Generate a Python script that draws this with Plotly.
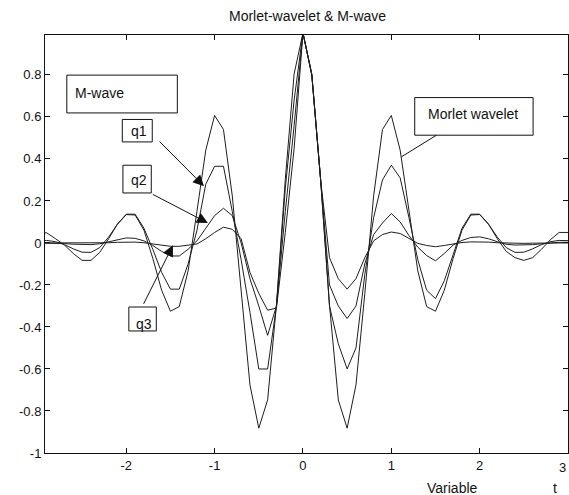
import plotly.graph_objects as go

t = [-3.0, -2.9, -2.8, -2.7, -2.6, -2.5, -2.4, -2.3, -2.2, -2.1,
     -2.0, -1.9, -1.8, -1.7, -1.6, -1.5, -1.4, -1.3, -1.2, -1.1,
     -1.0, -0.9, -0.8, -0.7, -0.6, -0.5, -0.4, -0.3, -0.2, -0.1,
     0.0, 0.1, 0.2, 0.3, 0.4, 0.5, 0.6, 0.7, 0.8, 0.9,
     1.0, 1.1, 1.2, 1.3, 1.4, 1.5, 1.6, 1.7, 1.8, 1.9,
     2.0, 2.1, 2.2, 2.3, 2.4, 2.5, 2.6, 2.7, 2.8, 2.9, 3.0]

morlet = [0.011, 0.012, 0.006, -0.008, -0.028, -0.044, -0.045, -0.022, 0.028, 0.089,
          0.135, 0.133, 0.061, -0.073, -0.225, -0.325, -0.303, -0.133, 0.150, 0.442,
          0.607, 0.540, 0.224, -0.242, -0.676, -0.882, -0.747, -0.295, 0.303, 0.805,
          1.000, 0.805, 0.303, -0.295, -0.747, -0.882, -0.676, -0.242, 0.224, 0.540,
          0.607, 0.442, 0.150, -0.133, -0.303, -0.325, -0.225, -0.073, 0.061, 0.133,
          0.135, 0.089, 0.028, -0.022, -0.045, -0.044, -0.028, -0.008, 0.006, 0.012, 0.011]

q1 = [0.050, 0.048, 0.020, -0.010, -0.050, -0.083, -0.083, -0.045, 0.020, 0.090,
      0.137, 0.137, 0.070, -0.030, -0.140, -0.220, -0.220, -0.100, 0.060, 0.280,
      0.365, 0.365, 0.150, -0.080, -0.330, -0.600, -0.600, -0.300, 0.260, 0.680,
      1.000, 0.800, 0.300, -0.300, -0.480, -0.600, -0.500, -0.150, 0.120, 0.300,
      0.370, 0.310, 0.120, -0.080, -0.225, -0.265, -0.180, -0.050, 0.070, 0.137,
      0.137, 0.090, 0.020, -0.040, -0.070, -0.083, -0.070, -0.030, 0.015, 0.050, 0.050]

q2 = [0.000, 0.000, 0.000, -0.003, -0.006, -0.008, -0.008, -0.004, 0.005, 0.016,
      0.024, 0.022, 0.010, -0.012, -0.040, -0.062, -0.062, -0.030, 0.010, 0.070,
      0.130, 0.165, 0.130, 0.000, -0.170, -0.300, -0.440, -0.300, 0.150, 0.560,
      1.000, 0.800, 0.300, -0.200, -0.300, -0.360, -0.300, -0.100, 0.040, 0.095,
      0.140, 0.100, 0.035, -0.020, -0.060, -0.085, -0.050, -0.010, 0.012, 0.026,
      0.029, 0.020, 0.006, -0.006, -0.010, -0.010, -0.008, -0.004, 0.000, 0.003, 0.003]

q3 = [0.000, 0.000, 0.000, 0.000, -0.001, -0.002, -0.002, -0.001, 0.001, 0.003,
      0.005, 0.004, 0.001, -0.004, -0.010, -0.016, -0.016, -0.010, -0.005, 0.020,
      0.050, 0.075, 0.065, 0.020, -0.140, -0.240, -0.320, -0.310, 0.050, 0.450,
      1.000, 0.800, 0.300, -0.070, -0.170, -0.220, -0.170, -0.070, 0.010, 0.040,
      0.052, 0.045, 0.020, -0.002, -0.012, -0.018, -0.012, -0.004, 0.002, 0.005,
      0.006, 0.004, 0.001, -0.001, -0.002, -0.002, -0.001, 0.000, 0.000, 0.000, 0.000]

x_ticks = [-2, -1, 0, 1, 2, 3]
x_ticklabels = ["-2", "-1", "0", "1", "2", "3"]
y_ticks = [-1, -0.8, -0.6, -0.4, -0.2, 0, 0.2, 0.4, 0.6, 0.8]
y_ticklabels = ["-1", "-0.8", "-0.6", "-0.4", "-0.2", "0", "0.2", "0.4", "0.6", "0.8"]

FONT = "Liberation Sans, Arial, sans-serif"
LINE = "#1e1e1e"

fig = go.Figure()
for ys in (morlet, q1, q2, q3):
    fig.add_trace(go.Scatter(x=t, y=ys, mode="lines",
                             line=dict(color=LINE, width=1), showlegend=False,
                             hoverinfo="skip"))

shapes = []
annotations = []

def box(x0, x1, y0, y1):
    shapes.append(dict(type="rect", xref="x", yref="y", x0=x0, x1=x1, y0=y0, y1=y1,
                       line=dict(color="#111", width=1), fillcolor="white", layer="above"))

box(-2.673, -1.422, 0.619, 0.799)   # M-wave
box(-2.045, -1.706, 0.481, 0.588)   # q1
box(-2.038, -1.717, 0.238, 0.370)   # q2
box(-1.971, -1.660, -0.419, -0.305) # q3
box(1.265, 2.605, 0.513, 0.692)     # Morlet wavelet

shapes.append(dict(type="line", xref="x", yref="y", x0=1.511, y0=0.513, x1=1.114, y1=0.41,
                   line=dict(color="#111", width=1)))

def label(x, y, text, anchor="center"):
    annotations.append(dict(x=x, y=y, xref="x", yref="y", text=text, showarrow=False,
                            xanchor=anchor, yanchor="middle",
                            font=dict(family=FONT, size=14, color="#111")))

label(-2.60, 0.715, "M-wave", "left")
label(-1.86, 0.534, "q1")
label(-1.86, 0.300, "q2")
label(-1.80, -0.384, "q3")
label(1.925, 0.612, "Morlet wavelet")

def arrow(xt, yt, xs, ys):
    annotations.append(dict(x=xt, y=yt, ax=xs, ay=ys, xref="x", yref="y",
                            axref="x", ayref="y", text="", showarrow=True,
                            arrowhead=2, arrowsize=2.2, arrowwidth=1, arrowcolor="#111"))

arrow(-1.12, 0.27, -1.64, 0.49)
arrow(-1.076, 0.095, -1.717, 0.235)
arrow(-1.472, -0.011, -1.812, -0.297)

annotations.append(dict(x=0.501, y=1.046, xref="paper", yref="paper",
                        text="Morlet-wavelet & M-wave", showarrow=False,
                        xanchor="center", yanchor="middle",
                        font=dict(family=FONT, size=14, color="#111")))
annotations.append(dict(x=1.69, y=-0.084, xref="x", yref="paper", text="Variable",
                        showarrow=False, xanchor="center", yanchor="middle",
                        font=dict(family=FONT, size=14, color="#111")))
annotations.append(dict(x=2.85, y=-0.084, xref="x", yref="paper", text="t",
                        showarrow=False, xanchor="center", yanchor="middle",
                        font=dict(family=FONT, size=14, color="#111")))
# right-most tick label, kept inside the window edge
annotations.append(dict(x=3.0, y=-0.035, xref="x", yref="paper", text="3",
                        showarrow=False, xanchor="right", yanchor="middle",
                        font=dict(family=FONT, size=13, color="#111")))

fig.update_layout(
    width=569, height=495,
    margin=dict(l=45, r=1, t=35, b=42),
    paper_bgcolor="white", plot_bgcolor="white",
    shapes=shapes, annotations=annotations,
    xaxis=dict(range=[-2.92, 3.0], tickvals=x_ticks, ticktext=x_ticklabels,
               ticks="inside", ticklen=5, tickcolor="#111", showline=True,
               linecolor="#111", linewidth=1, mirror="ticks", showgrid=False,
               zeroline=False, tickfont=dict(family=FONT, size=13, color="#111")),
    yaxis=dict(range=[-1.0, 0.99], tickvals=y_ticks, ticktext=y_ticklabels,
               ticks="inside", ticklen=5, tickcolor="#111", showline=True,
               linecolor="#111", linewidth=1, mirror="ticks", showgrid=False,
               zeroline=False, tickfont=dict(family=FONT, size=13, color="#111")),
)

fig.write_html("out.html")
